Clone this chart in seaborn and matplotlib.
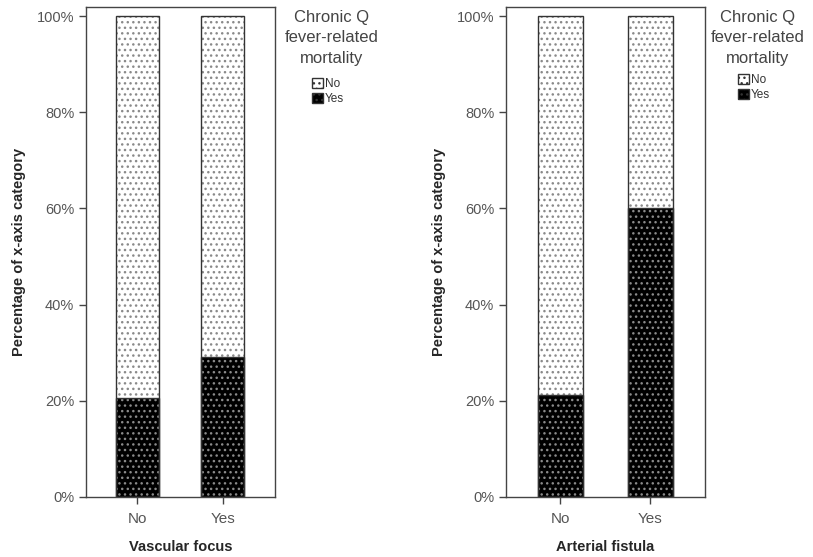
import pandas as pd
import numpy as np
import matplotlib.pyplot as plt
import seaborn as sns
from matplotlib.patches import Patch, Rectangle
from matplotlib.ticker import FuncFormatter

categories = ['No', 'Yes']
vascular_yes = [20.6, 29.1]
fistula_yes = [21.2, 60.0]
panel_xlabels = ['Vascular focus', 'Arterial fistula']
legend_title = 'Chronic Q\nfever-related\nmortality'
legend_labels = ['No', 'Yes']

sns.set_style('white')
plt.rcParams['font.family'] = ['Liberation Sans', 'DejaVu Sans']
plt.rcParams['hatch.linewidth'] = 1.0

fig = plt.figure(figsize=(8.13, 5.57), dpi=100)
ax1 = fig.add_axes([86 / 813, 1 - 497 / 557, 189 / 813, 490 / 557])
ax2 = fig.add_axes([506 / 813, 1 - 497 / 557, 199 / 813, 490 / 557])

dot_hatch = '...'
dot_color = '#8a8a8a'


def draw_panel(ax, yes_vals, xlabel):
    df = pd.DataFrame({'group': categories, 'total': [100.0] * len(categories), 'yes': yes_vals})
    sns.barplot(data=df, x='group', y='total', color='white', width=0.5, ax=ax, saturation=1)
    sns.barplot(data=df, x='group', y='yes', color='black', width=0.5, ax=ax, saturation=1)
    # dotted fill, then a dark outline on top
    for p in list(ax.patches):
        p.set_hatch(dot_hatch)
        p.set_edgecolor(dot_color)
        p.set_linewidth(0)
        ax.add_patch(Rectangle(p.get_xy(), p.get_width(), p.get_height(),
                               facecolor='none', edgecolor='#333333', linewidth=1.0))
    ax.set_ylim(0, 101.9)
    ax.set_xlim(-0.6, 1.61)
    ax.set_yticks([0, 20, 40, 60, 80, 100])
    ax.yaxis.set_major_formatter(FuncFormatter(lambda v, _: f'{v:.0f}%'))
    ax.tick_params(axis='both', which='both', direction='out', length=5, width=1,
                   color='#444444', labelcolor='#555555', labelsize=10.5, left=True, bottom=True)
    ax.tick_params(axis='x', labelsize=11, pad=6)
    for s in ax.spines.values():
        s.set_color('#444444')
        s.set_linewidth(1.0)
    ax.set_xlabel(xlabel, fontsize=10.5, fontweight='bold', labelpad=10)
    ax.set_ylabel('Percentage of x-axis category', fontsize=10.5, fontweight='bold', labelpad=8)


draw_panel(ax1, vascular_yes, panel_xlabels[0])
draw_panel(ax2, fistula_yes, panel_xlabels[1])

handles = [Patch(facecolor='white', edgecolor='#333333', hatch='...'),
           Patch(facecolor='black', edgecolor='#333333', hatch='...')]

for ax, cx, ly in [(ax1, 332, 78), (ax2, 758, 74)]:
    fig.text(cx / 813, 1 - 10 / 557, legend_title, ha='center', va='top',
             fontsize=12, color='#444444', linespacing=1.45)
    leg = fig.legend(handles=handles, labels=legend_labels, loc='upper left',
                     bbox_to_anchor=((cx - 20) / 813, 1 - ly / 557), frameon=False,
                     fontsize=8.5, handlelength=0.9, handleheight=0.9, handletextpad=0.2,
                     labelspacing=0.25, borderpad=0, borderaxespad=0)
    for t in leg.get_texts():
        t.set_color('#333333')

fig.savefig('out.png', dpi=100)
